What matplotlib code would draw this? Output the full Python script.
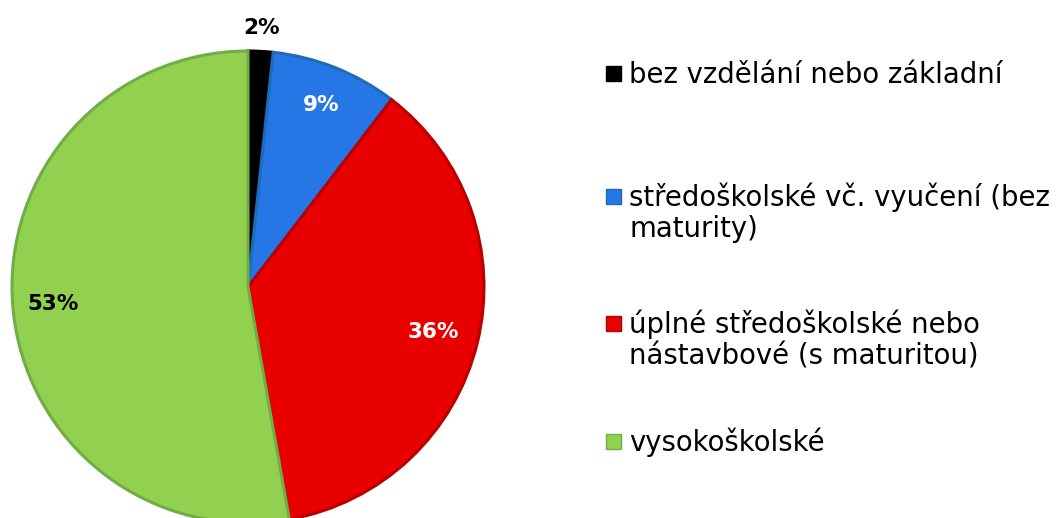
import matplotlib
matplotlib.use("Agg")
import matplotlib.pyplot as plt
import numpy as np
from matplotlib.patches import Rectangle

categories = ["bez vzdělání nebo základní",
              "středoškolské vč. vyučení (bez\nmaturity)",
              "úplné středoškolské nebo\nnástavbové (s maturitou)",
              "vysokoškolské"]
values = [1.7, 8.7, 36.8, 52.8]
pct_labels = ["2%", "9%", "36%", "53%"]
fill_colors = ["#000000", "#2677E5", "#E80000", "#92D050"]
edge_colors = ["#000000", "#1C6CB8", "#B80000", "#70AD47"]
label_colors = ["#000000", "#FFFFFF", "#FFFFFF", "#000000"]
label_dist = [1.10, 0.83, 0.81, 0.83]

plt.rcParams['font.family'] = ['DejaVu Sans']

W, H = 1061, 518
fig = plt.figure(figsize=(W / 100, H / 100), dpi=100)
cx, cy, R = 248, 287, 236
ax = fig.add_axes([(cx - R) / W, (H - cy - R) / H, 2 * R / W, 2 * R / H])
wedges, _ = ax.pie(values, colors=fill_colors, startangle=90, counterclock=False,
                   radius=1.0,
                   wedgeprops=dict(linewidth=2.2))
for w, ec in zip(wedges, edge_colors):
    w.set_edgecolor(ec)
    w.set_clip_on(False)
ax.set_xlim(-1, 1)
ax.set_ylim(-1, 1)
ax.set_aspect('equal')
ax.axis('off')

for w, lab, col, d in zip(wedges, pct_labels, label_colors, label_dist):
    ang = np.deg2rad((w.theta1 + w.theta2) / 2)
    ax.text(d * np.cos(ang), d * np.sin(ang), lab, ha='center', va='center',
            fontsize=15.5, fontweight='bold', color=col)

# legend
leg_base = [83, 206, 333, 451]
line_h = 31
for cat, fc, ec, y in zip(categories, fill_colors, edge_colors, leg_base):
    fig.patches.append(Rectangle((606 / W, (H - y + 2) / H), 15 / W, 15 / H,
                                 transform=fig.transFigure, facecolor=fc,
                                 edgecolor=ec, linewidth=1.0))
    for i, line in enumerate(cat.split("\n")):
        fig.text(629 / W, (H - y - i * line_h) / H, line, ha='left',
                 va='baseline', fontsize=19.8, color='#000000')

fig.savefig("out.png", dpi=100)
